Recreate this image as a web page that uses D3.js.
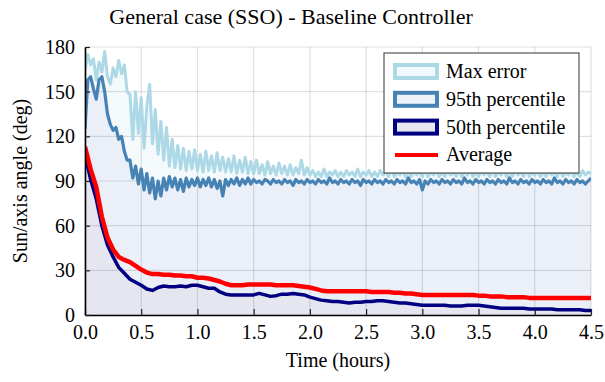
<!DOCTYPE html>
<html><head><meta charset="utf-8">
<script src="https://cdn.jsdelivr.net/npm/d3@7/dist/d3.min.js"></script>
<style>body{margin:0;background:#fff}svg{display:block}</style>
</head><body><svg id="c" width="605" height="382"></svg>
<script>
const title = "General case (SSO) - Baseline Controller";
const xLabel = "Time (hours)";
const yLabel = "Sun/axis angle (deg)";
const xTicks = [0, 0.5, 1, 1.5, 2, 2.5, 3, 3.5, 4, 4.5];
const yTicks = [0, 30, 60, 90, 120, 150, 180];
const seriesNames = ["Max error", "95th percentile", "50th percentile", "Average"];
const fineStep = 0.025;   // hours between samples of maxError / p95
const coarseStep = 0.05;  // hours between samples of p50 / average

const maxError = [
165,175,168,172,158,170,163,177,160,155,
166,160,171,162,168,150,148,118,150,122,
146,112,140,155,115,138,108,130,104,126,
100,118,99,114,98,112,97,110,98,111,
97,108,96,110,97,107,96,109,97,106,
96,105,96,107,95,104,96,106,95,103,
95,104,95,101,94,103,95,100,94,102,
95,100,94,101,94,99,95,104,94,99,
94,
97,93,96,93,98,93,96,94,97,93,
96,93,97,94,96,93,98,93,96,94,
97,93,96,93,97,94,96,93,98,93,
96,94,97,93,96,93,97,94,96,93,
98,93,96,94,97,93,96,93,97,94,
96,93,98,93,96,94,97,93,96,93,
97,94,96,93,98,93,96,94,97,93,
96,93,97,94,96,93,98,93,96,94,
97,93,96,93,97,94,96,93,98,93,
96,94,97,93,96,93,97,94,96,95
];
const p95 = [
125,158,160,152,145,158,160,150,135,128,
124,126,118,120,110,104,104,92,100,88,
98,84,95,82,92,78,90,80,92,84,
93,86,92,84,91,83,92,86,91,87,
92,86,91,87,92,86,91,85,90,80,
91,87,91,88,92,87,91,88,92,88,
91,89,90,88,91,90,88,91,89,90,
88,91,89,90,87,91,89,90,88,91,
89,90,88,91,89,90,88,92,89,90,
88,91,89,90,88,91,89,90,87,91,
89,90,88,91,89,90,88,91,89,90,
88,91,89,90,88,92,89,90,88,91,
84,90,88,91,89,90,88,91,89,90,
88,91,89,90,88,92,89,90,88,91,
89,90,88,91,89,90,88,91,89,90,
88,92,89,90,88,91,89,90,88,91,
89,90,88,91,89,90,88,92,89,90,
88,91,89,90,88,91,89,90,88,90,
92
];
const p50 = [
108,91,78,60,47,39,32,28,24,22,
20,17.5,16.5,18.5,19.5,19,19,19.5,19,20,
20,19,18,18,15.5,14,13.5,13.5,13.5,13.5,
13.5,14.5,13.5,12.5,13,14,14,14.5,14,13.5,
12,11,10,9.5,9,9,8.5,8,8.5,8.5,
9,9,9.5,9.5,9,8.5,8,8,7.5,7,
6.5,6.5,6.5,6.5,6.5,6,6,6,6.5,6.5,
6.5,6,5.5,5,4.5,4.5,4.5,4.5,4.5,4,
4,4,4,4,3.5,3.5,3.5,3.5,3.5,3,3
];
const average = [
113,98,86,66,52,44,39,37,35.5,33,
30.5,28.5,27.5,27.5,27,27,26.5,26.5,26,26,
25,25,24.5,23.5,22.5,21,20,20,20,20.5,
20.5,20.5,20.5,20.5,20,20,20,20,19.5,19,
18.5,17.5,16.5,16,16,16,16,16,16,16,
16,15.5,15.5,15.5,15.5,15,15,14.5,14.5,14,
13.5,13.5,13.5,13.5,13.5,13.5,13.5,13.5,13.5,13.5,
13,13,12.5,12.5,12.5,12,12,12,12,11.5,
11.5,11.5,11.5,11.5,11.5,11.5,11.5,11.5,11.5,11.5,11.5
];

const colors = {max:"#add8e6", p95:"#4682b4", p50:"#000080", avg:"#ff0000"};
const fills = {max:"#f4fafc", p95:"#ebf0f8", p50:"#e6e6f1"};
const serif = "'Liberation Serif','Times New Roman',Times,serif";

const svg = d3.select("#c");
const x = d3.scaleLinear().domain([0, 4.5]).range([85, 591]);
const y = d3.scaleLinear().domain([0, 180]).range([315, 47]);

svg.append("defs").append("clipPath").attr("id","clip")
  .append("rect").attr("x",85).attr("y",47).attr("width",506).attr("height",268);

const toPts = (arr, step) => arr.map((v,i)=>[i*step, v]);
const series = {
  max: toPts(maxError, fineStep),
  p95: toPts(p95, fineStep),
  p50: toPts(p50, coarseStep),
  avg: toPts(average, coarseStep)
};
const area = d3.area().x(d=>x(d[0])).y0(y(0)).y1(d=>y(d[1]));
const line = d3.line().x(d=>x(d[0])).y(d=>y(d[1]));

const plot = svg.append("g").attr("clip-path","url(#clip)");
["max","p95","p50"].forEach(k=>{
  plot.append("path").datum(series[k]).attr("d",area).attr("fill",fills[k]);
});

// grid
const grid = svg.append("g");
grid.selectAll(".gx").data(xTicks).join("line")
  .attr("x1",d=>x(d)).attr("x2",d=>x(d)).attr("y1",y(0)).attr("y2",y(180))
  .attr("stroke","rgba(0,0,0,0.12)").attr("stroke-width",1.2);
grid.selectAll(".gy").data(yTicks).join("line")
  .attr("y1",d=>y(d)).attr("y2",d=>y(d)).attr("x1",x(0)).attr("x2",x(4.5))
  .attr("stroke","rgba(0,0,0,0.12)").attr("stroke-width",1.2);

const lines = svg.append("g").attr("clip-path","url(#clip)");
[["max",3],["p95",3.2],["p50",3.5],["avg",4.5]].forEach(([k,w])=>{
  lines.append("path").datum(series[k]).attr("d",line).attr("fill","none")
    .attr("stroke",colors[k]).attr("stroke-width",w).attr("stroke-linejoin","round");
});

// axes
const xAxis = d3.axisBottom(x).tickValues(xTicks).tickFormat(d3.format(".1f"))
  .tickSizeInner(-6).tickSizeOuter(0).tickPadding(10);
const yAxis = d3.axisLeft(y).tickValues(yTicks).tickFormat(d3.format("d"))
  .tickSizeInner(-5).tickSizeOuter(0).tickPadding(10);
const gx = svg.append("g").attr("transform",`translate(0,${y(0)})`).call(xAxis);
const gy = svg.append("g").attr("transform",`translate(${x(0)},0)`).call(yAxis);
[gx,gy].forEach(g=>{
  g.select(".domain").attr("stroke","#000").attr("stroke-width",1.6);
  g.selectAll(".tick line").attr("stroke","#222").attr("stroke-width",1.2);
  g.selectAll(".tick text").attr("fill","#000").style("font-family",serif).style("font-size","20px");
});

// titles
svg.append("text").attr("x",291).attr("y",24).attr("text-anchor","middle")
  .style("font-family",serif).style("font-size","22px").text(title);
svg.append("text").attr("x",338).attr("y",367).attr("text-anchor","middle")
  .style("font-family",serif).style("font-size","20px").text(xLabel);
svg.append("text").attr("transform","translate(27,181) rotate(-90)").attr("text-anchor","middle")
  .style("font-family",serif).style("font-size","20px").text(yLabel);

// legend
const lg = svg.append("g");
lg.append("rect").attr("x",384).attr("y",53).attr("width",195).attr("height",120)
  .attr("fill","#fff").attr("stroke","#333").attr("stroke-width",1);
const legendItems = [
  {name:seriesNames[0], stroke:colors.max, fill:"#f0f9fb", type:"area"},
  {name:seriesNames[1], stroke:colors.p95, fill:"#edf1f8", type:"area"},
  {name:seriesNames[2], stroke:colors.p50, fill:"#e6e6f1", type:"area"},
  {name:seriesNames[3], stroke:colors.avg, type:"line"}
];
legendItems.forEach((it,i)=>{
  const cy = 71.5 + i*27.8;
  if (it.type==="area") {
    lg.append("rect").attr("x",395).attr("y",cy-6.5).attr("width",42).attr("height",13)
      .attr("fill",it.fill).attr("stroke",it.stroke).attr("stroke-width",4);
  } else {
    lg.append("line").attr("x1",395).attr("x2",438).attr("y1",cy).attr("y2",cy)
      .attr("stroke",it.stroke).attr("stroke-width",4);
  }
  lg.append("text").attr("x",446).attr("y",cy+6.5)
    .style("font-family",serif).style("font-size","20px").text(it.name);
});
</script></body></html>
